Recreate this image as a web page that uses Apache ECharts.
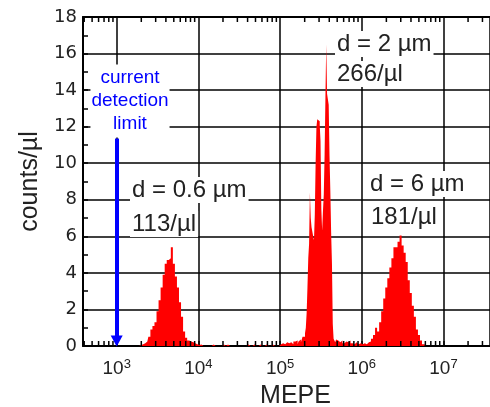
<!DOCTYPE html>
<html><head><meta charset="utf-8">
<script src="https://cdn.jsdelivr.net/npm/echarts@6/dist/echarts.min.js"></script>
<style>html,body{margin:0;padding:0;background:#fff}#c{width:490px;height:407px}</style>
</head><body><div id="c"></div>
<script>
// ---- axis ranges (log10 of MEPE) ----
const xMinLog = 2.5875;
const xMaxLog = 7.5695;
const yMin = 0, yMax = 18, yStep = 2;

// ---- histogram bins: log10(MEPE) start, bin width (decades), counts/µl ----
const segAStart = 3.25, segAStep = 0.025;
const segACounts = [0, 0, 0.05, 0.1, 0.15, 0.25, 0.5, 0.9, 1.1, 1.3, 1.9, 2.5, 3.2, 3.9, 4.5, 4.7, 4.8, 5.4, 4.5, 3.8, 3.2, 2.4, 1.6, 0.8, 0.45, 0.3, 0.25, 0.2, 0.15, 0.1, 0.05,
  0.08, 0, 0, 0, 0, 0, 0.08, 0, 0, 0, 0, 0.08, 0, 0.08, 0, 0, 0, 0, 0, 0, 0, 0, 0, 0.08, 0, 0, 0.08, 0, 0, 0.08, 0, 0, 0.08, 0, 0, 0.08, 0, 0, 0, 0.1, 0.15, 0.1, 0.2, 0.15, 0.2, 0.1, 0.25];

const segBStart = 5.20, segBStep = 0.01;
const segBCounts = [0.15, 0.3, 0.1, 0.25, 0.2, 0.35, 0.2, 0.3, 0.5, 0.4, 0.5, 0.7, 1.0, 1.8, 3.2, 4.8, 5.6, 8.4, 7.0, 6.5, 6.6, 6.0, 5.8, 7.2, 10.0, 12.0, 12.4, 12.5, 12.3, 12.1, 11.2, 7.5, 6.3, 7.4, 8.3, 10.5, 13.6, 16.5, 13.8, 13.5, 13.2, 10.4, 8.5, 6.2, 4.5, 1.2, 0.4, 0.3, 0.2, 0.35];

const segCStart = 5.70, segCStep = 0.025;
const segCCounts = [0.3, 0.2, 0.3, 0.15, 0.25, 0.2, 0.3, 0.15, 0.1, 0.2, 0.1, 0.15, 0.1, 0.15, 0.1, 0.2, 0.25, 0.4, 0.6, 1.0, 0.8, 1.3, 1.9, 2.6, 3.2, 3.7, 4.3, 4.8, 5.4, 5.4, 5.7, 6.05, 5.5, 5.1, 4.6, 3.6, 2.9, 2.2, 1.6, 0.9, 0.6, 0.3, 0.1, 0.05, 0];

// minor tick values (2..9 x decade) on log axis
const minorTickValues = [400, 500, 600, 700, 800, 900,
  2000, 3000, 4000, 5000, 6000, 7000, 8000, 9000,
  20000, 30000, 40000, 50000, 60000, 70000, 80000, 90000,
  200000, 300000, 400000, 500000, 600000, 700000, 800000, 900000,
  2000000, 3000000, 4000000, 5000000, 6000000, 7000000, 8000000, 9000000,
  20000000, 30000000];

// detection limit arrow
const detectionLimit = 1000;
const arrowFrom = 11.35, arrowTo = 0.28;

// annotation texts
const labelBead06 = ['d = 0.6 µm', '113/µl'];
const labelBead2 = ['d = 2 µm', '266/µl'];
const labelBead6 = ['d = 6 µm', '181/µl'];
const labelLimit = 'current\ndetection\nlimit';

function toPairs(start, step, counts) {
  return counts.map((c, i) => [Math.pow(10, start + i * step), c]);
}
const histData = [].concat(
  toPairs(segAStart, segAStep, segACounts),
  toPairs(segBStart, segBStep, segBCounts),
  toPairs(segCStart, segCStep, segCCounts)
);

const FONT = 'Liberation Sans, Arial, Helvetica, sans-serif';
const TXT = '#222';

const chart = echarts.init(document.getElementById('c'), null, {renderer: 'canvas'});

function annot(x, y, text, color, size, extra) {
  return {
    type: 'text', x: x, y: y, z: 50,
    style: Object.assign({
      text: text, fill: color, fontSize: size, fontFamily: FONT,
      align: 'left', verticalAlign: 'middle',
      backgroundColor: '#fff', padding: [1, 2, 1, 2]
    }, extra || {})
  };
}

chart.setOption({
  animation: false,
  backgroundColor: '#fff',
  grid: {left: 83, right: 0, top: 17, bottom: 61, containLabel: false, outerBoundsMode: 'none'},
  xAxis: [{
    type: 'log', logBase: 10,
    min: Math.pow(10, xMinLog), max: Math.pow(10, xMaxLog),
    position: 'bottom',
    axisLine: {show: true, onZero: false, lineStyle: {color: '#000', width: 2}},
    axisTick: {show: true, inside: true, length: 5, lineStyle: {color: '#000', width: 1.5}},
    splitLine: {show: true, lineStyle: {color: '#000', width: 1.5}},
    axisLabel: {
      showMinLabel: false, showMaxLabel: false, margin: 12,
      formatter: function (v) {
        const l = Math.log10(v), e = Math.round(l);
        if (Math.abs(l - e) > 0.01) return '';
        return '{b|10}{s|' + e + '}';
      },
      rich: {
        b: {fontSize: 19, fontFamily: FONT, color: TXT, lineHeight: 22},
        s: {fontSize: 13, fontFamily: FONT, color: TXT, lineHeight: 13, verticalAlign: 'top'}
      }
    },
    name: 'MEPE', nameLocation: 'middle', nameGap: 37,
    nameTextStyle: {fontSize: 25, fontFamily: FONT, color: TXT, padding: [0, 0, 0, 18]}
  }, {
    type: 'log', logBase: 10,
    min: Math.pow(10, xMinLog), max: Math.pow(10, xMaxLog),
    position: 'top',
    axisLine: {show: true, onZero: false, lineStyle: {color: '#000', width: 2}},
    axisTick: {show: false}, axisLabel: {show: false}, splitLine: {show: false}
  }],
  yAxis: {
    type: 'value', min: yMin, max: yMax, interval: yStep,
    axisLine: {show: true, lineStyle: {color: '#000', width: 2}},
    axisTick: {show: true, inside: true, length: 5, lineStyle: {color: '#000', width: 1.5}},
    minorTick: {show: true, splitNumber: 2, length: 5, lineStyle: {color: '#000', width: 1.5}},
    splitLine: {show: true, lineStyle: {color: '#000', width: 1.5}},
    axisLabel: {fontSize: 18, fontFamily: 'DejaVu Sans', color: TXT, margin: 6},
    name: 'counts/µl', nameLocation: 'middle', nameGap: 40,
    nameTextStyle: {fontSize: 25, fontFamily: FONT, color: TXT}
  },
  series: [{
    type: 'line', xAxisIndex: 0, yAxisIndex: 0,
    data: histData, step: 'middle', showSymbol: false, symbol: 'none',
    lineStyle: {width: 0, color: '#ff0000'},
    areaStyle: {color: '#ff0000', opacity: 1},
    itemStyle: {color: '#ff0000'},
    z: 3, silent: true,
    markLine: {
      silent: true, animation: false,
      symbol: ['none', 'triangle'], symbolSize: [12, 11],
      label: {show: false},
      lineStyle: {color: '#0000ff', width: 4, type: 'solid'},
      data: [[{coord: [detectionLimit, arrowFrom]}, {coord: [detectionLimit, arrowTo]}]]
    }
  }, {
    type: 'custom', xAxisIndex: 0, yAxisIndex: 0, silent: true, z: 4, clip: false,
    data: minorTickValues.map(v => [v, 0]),
    renderItem: function (params, api) {
      const v = api.value(0);
      const pb = api.coord([v, yMin]);
      const pt = api.coord([v, yMax]);
      return {type: 'group', children: [
        {type: 'line', shape: {x1: pb[0], y1: pb[1], x2: pb[0], y2: pb[1] - 5}, style: {stroke: '#000', lineWidth: 1.5}},
        {type: 'line', shape: {x1: pt[0], y1: pt[1], x2: pt[0], y2: pt[1] + 5}, style: {stroke: '#000', lineWidth: 1.5}}
      ]};
    }
  }],
  graphic: [
    annot(130, 101, labelLimit, '#0000ff', 19, {align: 'center', lineHeight: 23, padding: [2, 1, 2, 1]}),
    annot(130, 190, labelBead06[0], TXT, 24),
    annot(130, 224, labelBead06[1], TXT, 24),
    annot(335, 44, labelBead2[0], TXT, 24),
    annot(335, 74, labelBead2[1], TXT, 24),
    annot(368, 184, labelBead6[0], TXT, 24),
    annot(369, 217, labelBead6[1], TXT, 24)
  ]
});
</script></body></html>
